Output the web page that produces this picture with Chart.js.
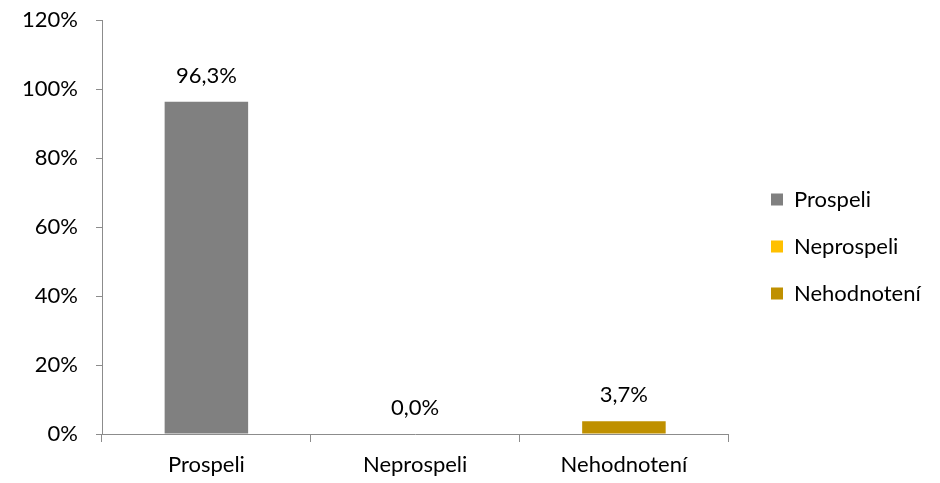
<!DOCTYPE html>
<html>
<head>
<meta charset="utf-8">
<script src="https://cdn.jsdelivr.net/npm/chart.js@4/dist/chart.umd.min.js"></script>
<style>
  html, body { margin: 0; padding: 0; background: #fff; }
  #wrap { width: 940px; height: 483px; }
</style>
</head>
<body>
<div id="wrap"><canvas id="graf"></canvas></div>
<script>
// Dados do gráfico
const categorias = ['Prospeli', 'Neprospeli', 'Nehodnotení'];
const valores = [0.963, 0.0, 0.037];
const cores = ['#808080', '#FFC000', '#BF9000'];
const rotulosValores = ['96,3%', '0,0%', '3,7%'];

const fonte = 'Lato, "Open Sans", sans-serif';
const tamFonte = 22;
const corEixo = '#8c8c8c';

// Plugin simples para escrever os valores acima das barras
const rotulosPlugin = {
    id: 'rotulos',
    afterDatasetsDraw(chart) {
        const ctx = chart.ctx;
        const meta = chart.getDatasetMeta(0);
        ctx.save();
        ctx.font = tamFonte + 'px ' + fonte;
        ctx.fillStyle = '#000';
        ctx.textAlign = 'center';
        ctx.textBaseline = 'alphabetic';
        meta.data.forEach((bar, i) => {
            ctx.fillText(rotulosValores[i], bar.x, bar.y - 19);
        });
        ctx.restore();
    }
};

// Desloca a legenda para a posição do original
const legendaPlugin = {
    id: 'ajusteLegenda',
    afterLayout(chart) {
        const lg = chart.legend;
        if (!lg) return;
        const dx = 771 - 12 - lg.left - 13;
        lg.left += dx;
        lg.right += dx;
        lg.top -= 5;
        lg.bottom -= 5;
    }
};

new Chart(document.getElementById('graf'), {
    type: 'bar',
    data: {
        labels: categorias,
        datasets: [{
            data: valores,
            backgroundColor: cores,
            borderWidth: 0,
            categoryPercentage: 1.0,
            barPercentage: 0.4
        }]
    },
    options: {
        responsive: true,
        maintainAspectRatio: false,
        animation: false,
        layout: { padding: { top: 20, left: 0, right: 27, bottom: 0 } },
        scales: {
            x: {
                grid: { display: true, drawOnChartArea: false, drawTicks: true, tickLength: 8, color: corEixo, offset: true },
                border: { display: true, color: corEixo },
                ticks: { color: '#000', font: { family: fonte, size: tamFonte }, padding: 10 },
                afterFit(scale) { scale.height = 49; }
            },
            y: {
                min: 0,
                max: 1.2,
                grid: { display: true, drawOnChartArea: false, drawTicks: true, tickLength: 6, color: corEixo },
                border: { display: true, color: corEixo },
                ticks: {
                    stepSize: 0.2,
                    color: '#000',
                    font: { family: fonte, size: tamFonte },
                    padding: 18,
                    callback: v => Math.round(v * 100) + '%'
                },
                afterFit(scale) {
                    scale.width = 102;
                    // o padding dos ticks não deve empurrar a área do gráfico
                    scale.paddingTop = 0;
                    scale.paddingBottom = 0;
                }
            }
        },
        plugins: {
            legend: {
                position: 'right',
                labels: {
                    color: '#000',
                    font: { family: fonte, size: tamFonte },
                    boxWidth: 12,
                    boxHeight: 12,
                    padding: 25,
                    generateLabels(chart) {
                        return categorias.map((c, i) => ({
                            text: c,
                            fillStyle: cores[i],
                            strokeStyle: cores[i],
                            lineWidth: 0,
                            index: i
                        }));
                    }
                }
            },
            tooltip: { enabled: false }
        }
    },
    plugins: [rotulosPlugin, legendaPlugin]
});
</script>
</body>
</html>
